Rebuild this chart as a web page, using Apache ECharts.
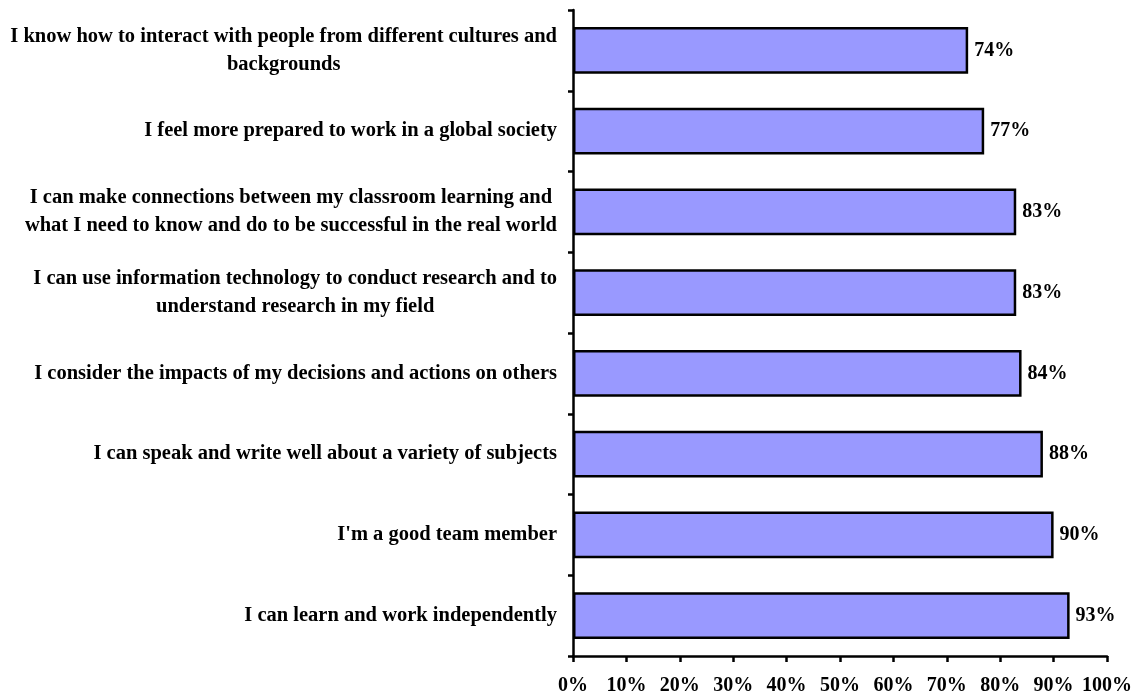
<!DOCTYPE html>
<html>
<head>
<meta charset="utf-8">
<script src="https://cdn.jsdelivr.net/npm/echarts@6/dist/echarts.min.js"></script>
<style>
  html, body { margin: 0; padding: 0; background: #fff; }
  #chart { width: 1136px; height: 694px; }
</style>
</head>
<body>
<div id="chart"></div>
<script>
// statements, top to bottom
const statements = [
  'I know how to interact with people from different cultures and\nbackgrounds',
  'I feel more prepared to work in a global society',
  'I can make connections between my classroom learning and\nwhat I need to know and do to be successful in the real world',
  'I can use information technology to conduct research and to\nunderstand research in my field',
  'I consider the impacts of my decisions and actions on others',
  'I can speak and write well about a variety of subjects',
  "I'm a good team member",
  'I can learn and work independently'
]
const agreePct = [74, 77, 83, 83, 84, 88, 90, 93]
const xTicks = [0, 10, 20, 30, 40, 50, 60, 70, 80, 90, 100]

const font = '"Liberation Serif", "Times New Roman", serif'

const chart = echarts.init(document.getElementById('chart'))

const option = {
  animation: false,
  grid: {
    left: 573, right: 29, top: 10, bottom: 38,
    containLabel: false,
    outerBoundsMode: 'none'
  },
  xAxis: {
    type: 'value',
    min: xTicks[0],
    max: xTicks[xTicks.length - 1],
    interval: 10,
    splitLine: { show: false },
    axisLine: { show: true, lineStyle: { color: '#000', width: 2.5 } },
    axisTick: { show: true, length: 6, lineStyle: { color: '#000', width: 2.5 } },
    axisLabel: {
      formatter: '{value}%',
      color: '#000',
      fontFamily: font,
      fontWeight: 'bold',
      fontSize: 20,
      margin: 20
    }
  },
  yAxis: {
    type: 'category',
    inverse: true,
    data: statements,
    axisLine: { show: true, lineStyle: { color: '#000', width: 2.5 } },
    axisTick: { show: true, length: 5, lineStyle: { color: '#000', width: 2.5 } },
    axisLabel: {
      margin: 16,
      align: 'right',
      formatter: v => v.split('\n').map(l => '{c|' + l + '}').join('\n'),
      rich: {
        c: {
          align: 'center',
          color: '#000',
          fontFamily: font,
          fontWeight: 'bold',
          fontSize: 20.5,
          lineHeight: 28
        }
      }
    }
  },
  series: [
    {
      type: 'bar',
      data: agreePct,
      barCategoryGap: '42%',
      itemStyle: {
        color: '#9999ff',
        borderColor: '#000',
        borderWidth: 2.5
      },
      label: {
        show: true,
        position: 'right',
        distance: 6,
        formatter: '{c}%',
        color: '#000',
        fontFamily: font,
        fontWeight: 'bold',
        fontSize: 20
      }
    }
  ]
}

chart.setOption(option)
</script>
</body>
</html>
